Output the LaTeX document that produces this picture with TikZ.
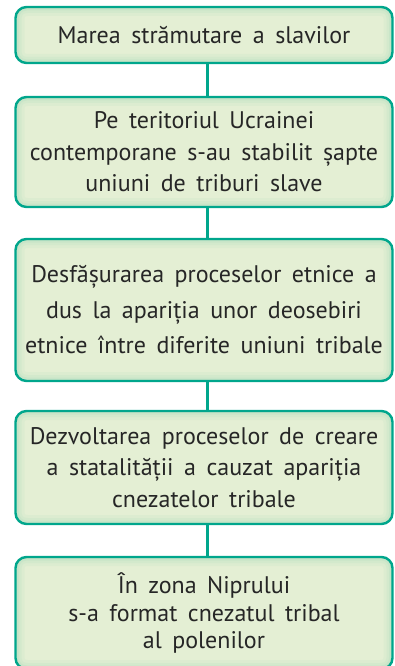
\documentclass[tikz,border=0pt]{standalone}
\usepackage{fontspec}
\setmainfont{PT Sans}
\usetikzlibrary{positioning}
\definecolor{frameTeal}{RGB}{0, 166, 140}
\definecolor{boxFill}{RGB}{228, 239, 212}
\definecolor{boxGlow}{RGB}{165, 216, 186}
\newcommand\stagefont{\fontsize{24}{31.5}\selectfont\spaceskip=10.5pt plus 2pt minus 2pt\relax}

\begin{document}
\begin{tikzpicture}[
    x=1pt, y=-1pt,
    font=\stagefont,
    stage/.style={rectangle, rounded corners=11pt, draw=frameTeal, line width=2.4pt,
        fill=boxFill, text=black!85, minimum width=377pt, align=center, inner sep=0pt,
        path picture={
            \foreach \w/\o in {18/0.12,12/0.15,7/0.22,3/0.3}
                \draw[boxGlow, opacity=\o, line width=\w pt, rounded corners=11pt]
                    (path picture bounding box.south west) rectangle (path picture bounding box.north east);
        }},
    link/.style={draw=frameTeal, line width=2.2pt}
]
\useasboundingbox (0,0) rectangle (394,666);

\node[stage, minimum height=56pt]  (move)    at (204,35)    {Marea strămutare a slavilor};
\node[stage, minimum height=110pt] (unions)  at (204,152)   {Pe teritoriul Ucrainei\\contemporane s-au stabilit șapte\\uniuni de triburi slave};
\node[stage, minimum height=142pt] (ethnic)  at (204,310)   {Desfășurarea proceselor etnice a\\[4pt]dus la apariția unor deosebiri\\[4pt]etnice între diferite uniuni tribale};
\node[stage, minimum height=113pt] (state)   at (204,467.5) {Dezvoltarea proceselor de creare\\a statalității a cauzat apariția\\cnezatelor tribale};
\node[stage, minimum height=112pt] (polians) at (204,613)   {În zona Niprului\\[-4pt]s-a format cnezatul tribal\\[-4pt]al polenilor};

% legaturi intre etape
\foreach \a/\b in {move/unions, unions/ethnic, ethnic/state, state/polians}
    \draw[link] ([xshift=3.5pt]\a.south) -- ([xshift=3.5pt]\b.north);
\end{tikzpicture}
\end{document}
